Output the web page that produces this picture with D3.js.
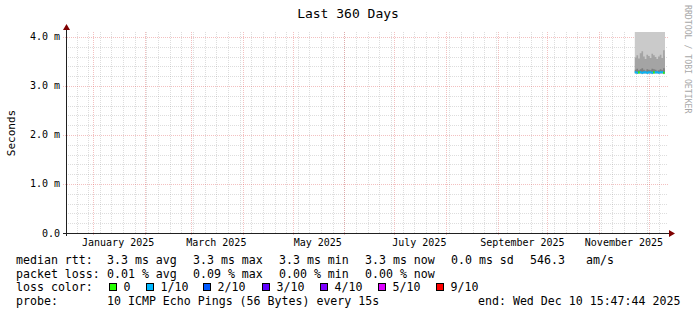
<!DOCTYPE html>
<html lang="en">
<head>
<meta charset="UTF-8">
<title>Last 360 Days</title>
<script src="https://d3js.org/d3.v7.min.js"></script>
<style>
  body { margin: 0; padding: 0; background: #ffffff; }
  svg { display: block; }
  text { font-family: "DejaVu Sans Mono", monospace; fill: #000; }
</style>
</head>
<body>
<svg id="chart" width="697" height="315"></svg>
<script>
// Smoke data, one value per day (ms)
const dates = ["2025-11-22", "2025-11-23", "2025-11-24", "2025-11-25", "2025-11-26", "2025-11-27",
  "2025-11-28", "2025-11-29", "2025-11-30", "2025-12-01", "2025-12-02", "2025-12-03", "2025-12-04",
  "2025-12-05", "2025-12-06", "2025-12-07", "2025-12-08", "2025-12-09", "2025-12-10"];
const pingMax = [4.35, 4.52, 4.28, 4.61, 4.40, 4.33, 4.57, 4.45, 4.30, 4.49, 4.62, 4.38, 4.41, 4.55, 4.36, 4.47, 4.32, 4.58, 4.44];
const ping9 = [3.58, 3.63, 3.56, 3.67, 3.71, 3.60, 3.55, 3.64, 3.61, 3.57, 3.66, 3.63, 3.59, 3.55, 3.60, 3.64, 3.57, 3.73, 3.61];
const ping8 = [3.33, 3.35, 3.32, 3.34, 3.36, 3.33, 3.31, 3.34, 3.33, 3.32, 3.35, 3.34, 3.33, 3.31, 3.32, 3.34, 3.32, 3.36, 3.33];
const median = [3.28, 3.27, 3.28, 3.28, 3.27, 3.28, 3.28, 3.27, 3.28, 3.28, 3.27, 3.28, 3.28, 3.28, 3.27, 3.28, 3.28, 3.27, 3.28];
const ping3 = [3.27, 3.26, 3.27, 3.27, 3.26, 3.27, 3.27, 3.26, 3.27, 3.27, 3.26, 3.27, 3.27, 3.27, 3.26, 3.27, 3.27, 3.26, 3.27];
const ping2 = [3.26, 3.26, 3.26, 3.26, 3.25, 3.26, 3.26, 3.26, 3.26, 3.26, 3.25, 3.26, 3.26, 3.26, 3.26, 3.26, 3.26, 3.25, 3.26];
const pingMin = [3.25, 3.25, 3.25, 3.25, 3.24, 3.25, 3.25, 3.25, 3.25, 3.25, 3.24, 3.25, 3.25, 3.25, 3.25, 3.25, 3.25, 3.24, 3.25];
const lossPct = [0.01, 0.02, 0, 0.01, 0.01, 0.02, 0.01, 0.01, 0.01, 0.01, 0.01, 0, 0.01, 0.01, 0.02, 0.01, 0.01, 0, 0.01];

// Axis ticks
const yTicks = [0, 1, 2, 3, 4];
const yTickLabels = ["0.0", "1.0 m", "2.0 m", "3.0 m", "4.0 m"];
const startTime = "2024-12-15T15:47:44Z";
const endTime = "2025-12-10T15:47:44Z";

// Loss colour legend
const lossLabels = ["0", "1/10", "2/10", "3/10", "4/10", "5/10", "9/10"];
const lossLimits = [0, 10, 20, 30, 40, 50, 100];
const lossColors = ["#26ff00", "#00b8ff", "#0059ff", "#5e00ff", "#7e00ff", "#dd00ff", "#ff0000"];

// Legend texts
const rttStats = ["median rtt:", "3.3 ms avg", "3.3 ms max", "3.3 ms min", "3.3 ms now", "0.0 ms sd", "546.3", "am/s"];
const lossStats = ["packet loss:", "0.01 % avg", "0.09 % max", "0.00 % min", "0.00 % now"];
const probeText = ["probe:", "10 ICMP Echo Pings (56 Bytes) every 15s", "end: Wed Dec 10 15:47:44 2025"];

const svg = d3.select("#chart");
const plotLeft = 66, plotRight = 665, plotTop = 32, plotBottom = 233;

const x = d3.scaleUtc()
  .domain([new Date(startTime), new Date(endTime)])
  .range([plotLeft, plotRight]);
const y = d3.scaleLinear()
  .domain([0, 4.102])
  .range([plotBottom, plotTop]);

const px = v => Math.round(v) + 0.5;

svg.append("rect").attr("width", 697).attr("height", 315).attr("fill", "#fff");

// Grid
const grid = svg.append("g").attr("stroke-dasharray", "1,1").attr("fill", "none");
const minorCol = "rgba(143,143,143,0.3)";
const majorCol = "rgba(222,80,80,0.36)";

d3.range(0, 4.1, 0.2).forEach(v => {
  const isMajor = Math.abs(v - Math.round(v)) < 1e-6;
  if (isMajor) return;
  grid.append("line")
    .attr("x1", plotLeft).attr("x2", plotRight + 3)
    .attr("y1", px(y(v))).attr("y2", px(y(v)))
    .attr("stroke", minorCol);
});
x.ticks(d3.utcSunday).forEach(t => {
  grid.append("line")
    .attr("x1", px(x(t))).attr("x2", px(x(t)))
    .attr("y1", plotBottom).attr("y2", plotTop - 1)
    .attr("stroke", minorCol);
});
x.ticks(d3.utcMonth).forEach(t => {
  grid.append("line")
    .attr("x1", px(x(t))).attr("x2", px(x(t)))
    .attr("y1", plotBottom + 2).attr("y2", plotTop - 1)
    .attr("stroke", majorCol);
});
yTicks.forEach(v => {
  grid.append("line")
    .attr("x1", plotLeft - 3).attr("x2", plotRight + 4)
    .attr("y1", px(y(v))).attr("y2", px(y(v)))
    .attr("stroke", majorCol);
});

// Smoke
const rows = dates.map((d, i) => ({
  t: new Date(d + "T12:00:00Z"),
  min: pingMin[i], p2: ping2[i], p3: ping3[i],
  p8: ping8[i], p9: ping9[i], max: pingMax[i],
  med: median[i], loss: lossPct[i]
}));
const tail = Object.assign({}, rows[rows.length - 1], { t: new Date(endTime) });
const stepRows = rows.concat([tail]);

svg.append("clipPath").attr("id", "plot")
  .append("rect").attr("x", plotLeft).attr("y", plotTop)
  .attr("width", plotRight - plotLeft + 1).attr("height", plotBottom - plotTop);

const smoke = svg.append("g").attr("clip-path", "url(#plot)");
const layers = [
  ["min", "max", "#cacaca"],
  ["p2", "p9", "#a4a4a4"],
  ["p3", "p8", "#7e7e7e"]
];
layers.forEach(([lo, hi, col]) => {
  const area = d3.area()
    .curve(d3.curveStepAfter)
    .x(d => x(d.t))
    .y0(d => y(d[lo]))
    .y1(d => y(d[hi]));
  smoke.append("path").datum(stepRows).attr("d", area).attr("fill", col);
});

// Median line coloured by loss
function lossColor(p) {
  if (p === 0) return lossColors[0];
  for (let k = 1; k < lossLimits.length; k++) {
    if (p <= lossLimits[k]) return lossColors[k];
  }
  return lossColors[lossColors.length - 1];
}
rows.forEach((d, i) => {
  const next = stepRows[i + 1];
  smoke.append("line")
    .attr("x1", x(d.t)).attr("x2", x(next.t))
    .attr("y1", y(d.med)).attr("y2", y(d.med))
    .attr("stroke", lossColor(d.loss))
    .attr("stroke-width", 2.2);
});

// Axes
const axisCol = "#202020", arrowCol = "#7f0000";
svg.append("line")
  .attr("x1", plotLeft - 3).attr("x2", plotRight + 5)
  .attr("y1", px(plotBottom)).attr("y2", px(plotBottom))
  .attr("stroke", axisCol);
svg.append("line")
  .attr("x1", px(plotLeft)).attr("x2", px(plotLeft))
  .attr("y1", plotBottom + 3).attr("y2", plotTop - 3)
  .attr("stroke", axisCol);
svg.append("path")
  .attr("d", `M${plotRight + 4},${plotBottom - 3} L${plotRight + 10},${plotBottom + 0.5} L${plotRight + 4},${plotBottom + 4} Z`)
  .attr("fill", arrowCol);
svg.append("path")
  .attr("d", `M${plotLeft - 3},${plotTop - 2} L${plotLeft + 0.5},${plotTop - 8} L${plotLeft + 4},${plotTop - 2} Z`)
  .attr("fill", arrowCol);

// Y tick labels
yTicks.forEach((v, i) => {
  svg.append("text")
    .attr("x", 60).attr("y", y(v) + 3.5)
    .attr("text-anchor", "end")
    .attr("font-size", 10)
    .text(yTickLabels[i]);
});

// X labels: every second month, centred mid-month
const fmtMonth = d3.utcFormat("%B %Y");
x.ticks(d3.utcMonth.every(2)).forEach(t => {
  const mid = d3.utcDay.offset(t, 15);
  if (mid > x.domain()[1]) return;
  svg.append("text")
    .attr("x", x(mid)).attr("y", 246)
    .attr("text-anchor", "middle")
    .attr("font-size", 10)
    .text(fmtMonth(t));
});

// Title, axis title, watermark
svg.append("text")
  .attr("x", 348).attr("y", 18)
  .attr("text-anchor", "middle")
  .attr("font-size", 13)
  .text("Last 360 Days");
svg.append("text")
  .attr("transform", "translate(15,133) rotate(-90)")
  .attr("text-anchor", "middle")
  .attr("font-size", 11)
  .text("Seconds");
svg.append("text")
  .attr("transform", "translate(684.5,5) rotate(90)")
  .attr("font-size", 8.2)
  .style("fill", "#a8a8a8")
  .text("RRDTOOL / TOBI OETIKER");

// Legend
const legendFont = 11.6;
function legendLine(items, xs, yBase) {
  items.forEach((s, i) => {
    svg.append("text")
      .attr("x", xs[i]).attr("y", yBase)
      .attr("font-size", legendFont)
      .text(s);
  });
}
legendLine(rttStats, [16, 107, 193, 279, 365, 451, 530, 586], 264);
legendLine(lossStats, [16, 107, 193, 279, 365], 277.6);

svg.append("text").attr("x", 16).attr("y", 291.3).attr("font-size", legendFont).text("loss color:");
const swatchX = [109, 146, 203, 262, 320, 378, 436];
lossLabels.forEach((lab, i) => {
  svg.append("rect")
    .attr("x", swatchX[i] + 0.5).attr("y", 283.5)
    .attr("width", 7).attr("height", 7)
    .attr("fill", lossColors[i])
    .attr("stroke", "#000");
  svg.append("text")
    .attr("x", swatchX[i] + 14.5).attr("y", 291.3)
    .attr("font-size", legendFont)
    .text(lab);
});
legendLine(probeText, [16, 107, 478], 305);
</script>
</body>
</html>
